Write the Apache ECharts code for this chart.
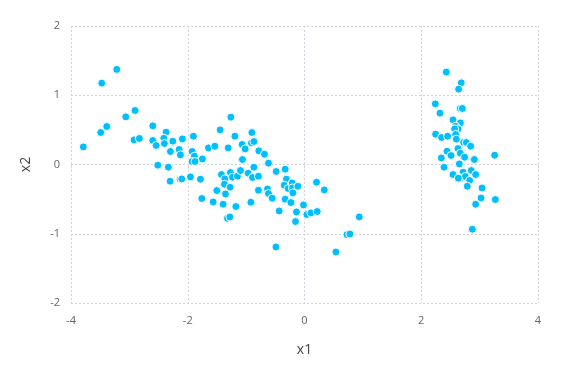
<!DOCTYPE html>
<html style="height: 100%">
<head>
<title>x1 vs x2</title>
<script src="https://cdn.jsdelivr.net/npm/echarts@6/dist/echarts.min.js"></script>
</head>
<body style="height: 100%; margin: 0">
<div id="target" style="width: 567px; height: 378px"></div>
<script>
// x1 values, one per point
const x1 = [
    -3.216, -3.473, -2.902, -3.062, -3.388, -3.491, -3.789, -2.599, -2.371, -2.920,
    -2.829, -2.599, -2.410, -2.256, -2.092, -1.903, -2.542, -2.400, -2.297, -2.148,
    -2.126, -1.925, -1.886, -1.925, -1.874, -1.749, -1.646, -2.513, -2.332, -2.302,
    -2.131, -2.102, -1.954, -1.783, -1.759,
    -1.262, -1.445, -1.193, -0.902, -1.536, -1.308, -1.068, -1.017, -0.909, -0.867,
    -0.782, -0.686, -1.063, -0.617, -0.485, -0.331, -1.423, -1.269, -1.365, -1.234,
    -1.149, -1.097, -0.965, -0.867, -0.891, -0.789, -1.372, -1.274, -1.502, -1.354,
    -0.789, -0.634, -0.617, -0.554, -0.309, -0.348, -0.279, -0.211, -0.206, -0.199,
    -0.113, -0.331, -0.233, -0.137, -0.154, -1.565, -1.394, -1.176, -0.919, -1.320,
    -1.279, -0.434, -0.490, -0.017, 0.041, 0.110, 0.218, 0.206, 0.338, 0.938,
    0.727, 0.778, 0.538,
    2.429, 2.686, 2.640, 2.241, 2.669, 2.704, 2.321, 2.544, 2.669, 2.589,
    2.630, 2.572, 2.246, 2.349, 2.452, 2.589, 2.601, 2.726, 2.772, 2.846,
    2.630, 2.669, 2.441, 2.510, 2.344, 2.743, 2.909, 2.652, 3.257, 2.390,
    2.544, 2.716, 2.858, 2.932, 2.669, 2.755, 2.829, 2.635, 2.789, 3.041,
    3.024, 3.269, 2.932, 2.875
];

// x2 values, same order
const x2 = [
    1.373, 1.175, 0.780, 0.688, 0.549, 0.462, 0.254, 0.558, 0.467, 0.355,
    0.376, 0.347, 0.380, 0.337, 0.370, 0.409, 0.275, 0.303, 0.188, 0.217,
    0.139, 0.188, 0.120, 0.043, 0.043, 0.081, 0.240, -0.010, -0.039, -0.241,
    -0.212, -0.208, -0.179, -0.212, -0.491,
    0.684, 0.500, 0.409, 0.462, 0.264, 0.240, 0.289, 0.225, 0.312, 0.332,
    0.197, 0.149, 0.072, 0.019, -0.101, -0.068, -0.145, -0.116, -0.208, -0.184,
    -0.169, -0.087, -0.126, -0.039, -0.188, -0.169, -0.285, -0.328, -0.376, -0.425,
    -0.371, -0.353, -0.419, -0.487, -0.212, -0.299, -0.347, -0.266, -0.338, -0.410,
    -0.314, -0.501, -0.549, -0.685, -0.824, -0.540, -0.574, -0.607, -0.545, -0.776,
    -0.757, -0.671, -1.191, -0.584, -0.723, -0.699, -0.679, -0.256, -0.367, -0.757,
    -1.012, -1.003, -1.263,
    1.334, 1.179, 1.088, 0.876, 0.809, 0.809, 0.741, 0.645, 0.601, 0.553,
    0.514, 0.514, 0.438, 0.390, 0.409, 0.434, 0.366, 0.318, 0.318, 0.264,
    0.231, 0.163, 0.192, 0.130, 0.095, 0.105, 0.072, 0.009, 0.134, -0.039,
    -0.145, -0.111, -0.087, -0.145, -0.194, -0.173, -0.231, -0.198, -0.314, -0.338,
    -0.483, -0.506, -0.574, -0.935
];

const xTicks = [-4, -2, 0, 2, 4];
const yTicks = [-2, -1, 0, 1, 2];

let chart = echarts.init(document.getElementById('target'));

const gridLine = {
    type: [2, 2],
    color: "#d6d6e2",
    width: 1,
};

let points = x1.map((v, i) => [v, x2[i]]);

let option = {
    animation: false,
    backgroundColor: "#ffffff",
    grid: {
        left: 71,
        right: 29,
        top: 26,
        bottom: 75,
    },
    xAxis: {
        type: "value",
        name: "x1",
        nameLocation: "middle",
        nameGap: 36,
        nameTextStyle: {
            fontSize: 14,
            color: "#444",
            fontFamily: "Open Sans",
        },
        min: xTicks[0],
        max: xTicks[xTicks.length - 1],
        interval: 2,
        axisLine: { show: false },
        axisTick: { show: true, length: 5, lineStyle: gridLine },
        splitLine: { show: true, lineStyle: gridLine },
        axisLabel: {
            color: "#666",
            fontSize: 11,
            margin: 9,
            fontFamily: "Open Sans",
        },
    },
    yAxis: {
        type: "value",
        name: "x2",
        nameLocation: "middle",
        nameGap: 34,
        nameTextStyle: {
            fontSize: 14,
            color: "#444",
            fontFamily: "Open Sans",
        },
        min: yTicks[0],
        max: yTicks[yTicks.length - 1],
        interval: 1,
        axisLine: { show: false },
        axisTick: { show: true, length: 5, lineStyle: gridLine },
        splitLine: { show: true, lineStyle: gridLine },
        axisLabel: {
            color: "#666",
            fontSize: 11,
            margin: 11,
            fontFamily: "Open Sans",
        },
    },
    series: [
        {
            type: "scatter",
            data: points,
            symbol: "circle",
            symbolSize: 8,
            itemStyle: {
                color: "#00bfff",
                borderColor: "#ffffff",
                borderWidth: 1,
                opacity: 1,
            },
        },
    ],
};

chart.setOption(option);
</script>
</body>
</html>
